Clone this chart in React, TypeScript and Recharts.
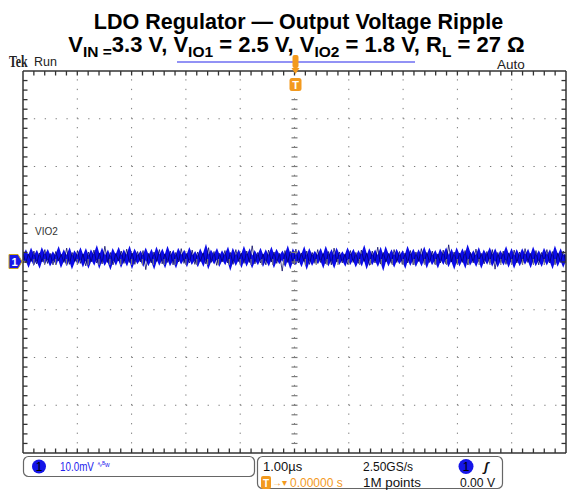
import React from "react";
import { LineChart, Line, XAxis, YAxis, ReferenceLine, ReferenceDot } from "recharts";

// scope settings: 1 us/div horizontally, 10 mV/div vertically, trigger at center
const X_MAJOR = [-5, -4, -3, -2, -1, 0, 1, 2, 3, 4, 5];
const Y_MAJOR = [-40, -30, -20, -10, 0, 10, 20, 30, 40];
const X_MINOR = Array.from({ length: 51 }, (_, i) => -5 + i * 0.2);
const Y_MINOR = Array.from({ length: 41 }, (_, i) => -40 + i * 2);

// VIO2 ripple trace, mV, sampled across 10 us (outer envelope, dark)
const VIO2_DARK = [
  2.0, -0.2, 1.7, 0.1, 2.3, -0.4, 1.9, 0.0, 2.6, -0.3,
  1.8, -0.6, 2.2, 0.2, 1.6, -0.1, 2.9, -0.5, 2.0, 0.1,
  2.4, -0.3, 1.7, -0.8, 2.1, 0.0, 2.5, -0.2, 1.9, -0.4,
  3.3, -0.1, 2.0, -0.6, 1.8, 0.2, 2.3, -0.3, 2.7, -0.1,
  1.9, -0.5, 2.2, 0.0, 2.4, -1.6, 1.8, -0.2, 2.1, 0.1,
  2.6, -0.4, 1.7, -0.1, 2.3, -0.6, 2.0, 0.0, 2.8, -0.3,
  1.8, -0.2, 2.5, -0.5, 2.1, 0.1, 1.9, -0.4, 3.0, -0.1,
  2.2, -0.7, 1.8, 0.0, 2.4, -0.2, 2.0, -0.5, 2.6, 0.1,
  1.9, -0.3, 2.3, -0.1, 3.4, -0.4, 2.0, -0.2, 1.7, -0.6,
  2.5, 0.0, 2.1, -0.3, 1.8, -1.9, 2.4, -0.1, 2.2, -0.4,
  2.7, -0.2, 1.9, 0.1, 2.3, -0.5, 2.0, -0.3, 2.6, -0.1,
  1.8, -0.4, 2.2, -0.6, 2.9, 0.0, 2.1, -0.2, 1.7, -0.5,
  2.4, -0.1, 2.0, -0.3, 2.5, 0.1, 1.9, -0.7, 2.3, -0.2,
  3.1, -0.4, 2.0, 0.0, 1.8, -0.3, 2.6, -0.1, 2.2, -0.5,
  1.9, -0.2, 2.4, -0.6, 2.1, 0.1, 2.8, -0.3, 2.0, -0.1,
  2.3, -0.5, 1.7, -0.2, 2.5, -0.4, 3.6, 0.0, 2.1, -0.3,
  1.9, -0.1, 2.4, -0.6, 2.0, -0.2, 2.7, 0.1, 1.8, -0.4,
  2.2, -0.3, 2.6, -1.5, 2.0, -0.1, 2.3, -0.5, 1.9, 0.0,
  2.5, -0.2, 2.1, -0.4, 2.8, -0.1, 1.8, -0.3, 2.4, -0.6,
  2.0, 0.1, 2.6, -0.2, 2.2, -0.5, 1.9, -0.1, 2.3, -0.3,
];

// VIO2 ripple trace, mV (dense core, bright blue)
const VIO2_CORE = [
  0.4, 1.5, 0.1, 1.7, 0.3, 1.4, 0.0, 1.8, 0.5, 1.6,
  0.2, 1.3, 0.4, 1.9, 0.1, 1.5, 0.3, 1.7, -0.1, 1.4,
  0.5, 1.8, 0.2, 1.6, 0.0, 1.5, 0.4, 2.0, 0.1, 1.7,
  0.3, 1.4, -0.2, 1.6, 0.4, 1.8, 0.1, 1.5, 0.3, 1.9,
  0.0, 1.6, 0.5, 1.4, 0.2, 1.7, 0.3, 1.5, -0.1, 1.8,
  0.4, 1.6, 0.1, 1.9, 0.3, 1.4, 0.0, 1.7, 0.5, 1.5,
  0.2, 1.8, 0.4, 1.3, 0.1, 1.6, 0.3, 2.1, 0.0, 1.5,
  0.5, 1.7, 0.2, 1.4, 0.4, 1.8, -0.2, 1.6, 0.3, 1.5,
  0.1, 1.9, 0.3, 1.6, 0.0, 1.4, 0.4, 1.7, 0.2, 1.5,
  0.3, 1.8, 0.1, 1.6, 0.5, 1.4, 0.2, 1.9, 0.0, 1.6,
  0.4, 1.5, 0.2, 1.8, -0.1, 1.6, 0.3, 1.4, 0.5, 1.7,
  0.1, 1.9, 0.3, 1.5, 0.0, 1.7, 0.4, 1.3, 0.2, 1.8,
  0.5, 1.6, 0.1, 1.4, 0.3, 2.0, 0.0, 1.6, 0.4, 1.5,
  0.2, 1.7, -0.2, 1.8, 0.3, 1.5, 0.1, 1.6, 0.5, 1.4,
  0.0, 1.9, 0.4, 1.6, 0.2, 1.5, 0.3, 1.8, 0.1, 1.7,
  0.4, 1.4, 0.0, 1.6, 0.5, 1.8, 0.2, 1.5, -0.1, 1.7,
  0.3, 1.6, 0.1, 2.1, 0.4, 1.4, 0.2, 1.7, 0.0, 1.5,
  0.5, 1.8, 0.3, 1.6, 0.1, 1.4, 0.4, 1.9, 0.2, 1.6,
  0.0, 1.5, 0.3, 1.7, 0.5, 1.6, 0.1, 1.8, 0.3, 1.4,
  0.2, 1.7, 0.4, 1.5, 0.0, 1.9, 0.3, 1.6, 0.1, 1.5,
];

const T_START = -5;
const T_SPAN = 10;

const data = VIO2_DARK.map((v, i) => ({
  t: T_START + (i * T_SPAN) / (VIO2_DARK.length - 1),
  dark: v,
  core: VIO2_CORE[i],
}));

const W = 567;
const H = 491;
const MARGIN = { top: 71, right: 1, bottom: 38, left: 23 };
const ORANGE = "#f39a1e";
const BORDER = "#333";
const GRID = "#7a7a7a";
const sans = "'Liberation Sans', Arial, sans-serif";

// same linear mapping as the chart's plot box, used for the frame tick marks
const PX0 = MARGIN.left;
const PX1 = W - MARGIN.right;
const PY0 = MARGIN.top;
const PY1 = H - MARGIN.bottom;
const sx = (t: number) => PX0 + ((t + 5) / 10) * (PX1 - PX0);
const sy = (v: number) => PY1 - ((v + 40) / 80) * (PY1 - PY0);

const tickShape = (dx1: number, dy1: number, dx2: number, dy2: number) => (p: any) => (
  <line x1={p.cx + dx1} y1={p.cy + dy1} x2={p.cx + dx2} y2={p.cy + dy2} stroke={GRID} strokeWidth={1.2} />
);
const CENTER_H_TICK = tickShape(-3, 0, 3, 0);
const CENTER_V_TICK = tickShape(0, -3, 0, 3);

// horizontally squeezed text, like the scope's narrow font
const NText = ({ x, y, sx = 1, size = 13.5, fill = "#111", children, ...rest }: any) => (
  <text transform={`translate(${x},${y}) scale(${sx},1)`} fontFamily={sans} fontSize={size} fill={fill} {...rest}>
    {children}
  </text>
);

export default function App() {
  const ax = { xAxisId: "b", yAxisId: "l", ifOverflow: "visible" as const };
  const inner = X_MINOR.slice(1, -1);
  const innerY = Y_MINOR.slice(1, -1);
  return (
    <div style={{ position: "absolute", left: 0, top: 0, width: W, height: H, background: "#fff" }}>
      <LineChart width={W} height={H} data={data} margin={MARGIN}>
        <XAxis xAxisId="b" dataKey="t" type="number" domain={[-5, 5]} mirror tick={false}
          tickLine={false} stroke={BORDER} strokeWidth={1.5} allowDataOverflow />
        <XAxis xAxisId="t" orientation="top" dataKey="t" type="number" domain={[-5, 5]} mirror
          tick={false} tickLine={false} stroke={BORDER} strokeWidth={1.5} allowDataOverflow />
        <YAxis yAxisId="l" type="number" domain={[-40, 40]} mirror tick={false} tickLine={false}
          stroke={BORDER} strokeWidth={1.5} allowDataOverflow />
        <YAxis yAxisId="r" orientation="right" type="number" domain={[-40, 40]} mirror tick={false}
          tickLine={false} stroke={BORDER} strokeWidth={1.5} allowDataOverflow />

        {X_MAJOR.slice(1, -1).map((x) => (
          <ReferenceLine key={"gx" + x} {...ax} x={x} stroke={GRID} strokeDasharray="1.3 8.25" />
        ))}
        {Y_MAJOR.slice(1, -1).map((y) => (
          <ReferenceLine key={"gy" + y} {...ax} y={y} stroke={GRID} strokeDasharray="1.3 9.56" />
        ))}
        {innerY.map((y) => (
          <ReferenceDot key={"cy" + y} {...ax} x={0} y={y} shape={CENTER_H_TICK} />
        ))}
        {inner.map((x) => (
          <ReferenceDot key={"cx" + x} {...ax} x={x} y={0} shape={CENTER_V_TICK} />
        ))}

        <Line xAxisId="b" yAxisId="l" dataKey="core" type="linear" stroke="#0c0ce8" strokeWidth={4.6}
          dot={false} isAnimationActive={false} />
        <Line xAxisId="b" yAxisId="l" dataKey="dark" type="linear" stroke="#000060" strokeWidth={0.75}
          dot={false} isAnimationActive={false} />
      </LineChart>

      <svg width={W} height={H} style={{ position: "absolute", left: 0, top: 0, pointerEvents: "none" }}>
        <g stroke={BORDER} strokeWidth={1.3}>
          {inner.map((t) => (
            <line key={"ft" + t} x1={sx(t)} x2={sx(t)} y1={PY0} y2={PY0 + 4.5} />
          ))}
          {inner.map((t) => (
            <line key={"fb" + t} x1={sx(t)} x2={sx(t)} y1={PY1} y2={PY1 - 4.5} />
          ))}
          {innerY.map((v) => (
            <line key={"fl" + v} x1={PX0} x2={PX0 + 4.5} y1={sy(v)} y2={sy(v)} />
          ))}
          {innerY.map((v) => (
            <line key={"fr" + v} x1={PX1} x2={PX1 - 4.5} y1={sy(v)} y2={sy(v)} />
          ))}
        </g>

        <g fontFamily={sans} fontWeight="bold" fill="#000" textAnchor="middle">
          <text x={298.5} y={29} fontSize={21.5}>LDO Regulator — Output Voltage Ripple</text>
          <text x={296.5} y={52} fontSize={22}>
            V<tspan fontSize={15.5} dy={5}>IN =</tspan>
            <tspan dy={-5}>3.3 V, V</tspan>
            <tspan fontSize={15.5} dy={5}>IO1</tspan>
            <tspan dy={-5}> = 2.5 V, V</tspan>
            <tspan fontSize={15.5} dy={5}>IO2</tspan>
            <tspan dy={-5}> = 1.8 V, R</tspan>
            <tspan fontSize={15.5} dy={5}>L</tspan>
            <tspan dy={-5}> = 27 Ω</tspan>
          </text>
        </g>

        <text transform="translate(9,67) scale(0.7,1)" fontFamily="'Liberation Serif', serif" fontWeight="bold"
          fontSize={17} fill="#222">Tek</text>
        <NText x={34} y={66} size={12.5} fill="#222">Run</NText>
        <NText x={497} y={68.5} size={13.5} fill="#222">Auto</NText>

        <line x1={177} y1={62} x2={415} y2={62} stroke="#6e6ef2" strokeWidth={1.5} />
        <rect x={292.5} y={55} width={6} height={13} rx={2} fill={ORANGE} />
        <path d="M291.5 68 L299.5 68 L295.5 74 Z" fill={ORANGE} />
        <rect x={289.5} y={78} width={12} height={13} rx={2.5} fill={ORANGE} />
        <text x={295.5} y={89} textAnchor="middle" fontFamily={sans} fontWeight="bold" fontSize={11} fill="#fff">T</text>

        <NText x={35} y={235} size={10} fill="#333">VIO2</NText>
        <path d="M9 254.5 L18 254.5 L22 261.5 L18 268.5 L9 268.5 Z" fill="#1818e6" stroke="#c9a21a" strokeWidth={1} />
        <text x={14.5} y={266} textAnchor="middle" fontFamily={sans} fontWeight="bold" fontSize={11} fill="#fff">1</text>

        <rect x={23.5} y={456.5} width={231} height={20} rx={5} fill="none" stroke="#666" strokeWidth={1.2} />
        <circle cx={39} cy={466.5} r={7} fill="#1515e8" />
        <text x={39} y={471} textAnchor="middle" fontFamily={sans} fontSize={12} fill="#000">1</text>
        <NText x={60} y={471} sx={0.73} fill="#2424ee">10.0mV</NText>
        <NText x={97} y={467} sx={0.8} size={8} fill="#2424ee">∿ᴮw</NText>

        <rect x={257.5} y={456.5} width={245} height={32} rx={5} fill="none" stroke="#666" strokeWidth={1.2} />
        <NText x={263} y={471} sx={0.96}>1.00µs</NText>
        <NText x={363} y={471} sx={0.89}>2.50GS/s</NText>
        <NText x={363} y={487} sx={0.99}>1M points</NText>
        <NText x={460} y={487} sx={0.9}>0.00 V</NText>
        <NText x={484} y={471} fontStyle="italic" fontWeight="bold">ʃ</NText>
        <circle cx={466} cy={466.5} r={7.5} fill="#1515e8" />
        <text x={466} y={471} textAnchor="middle" fontFamily={sans} fontSize={12} fill="#000">1</text>
        <rect x={261} y={476} width={10} height={13} rx={2} fill={ORANGE} />
        <text x={266} y={487} textAnchor="middle" fontFamily={sans} fontWeight="bold" fontSize={10} fill="#fff">T</text>
        <NText x={272} y={486} size={10} fill={ORANGE}>→▾</NText>
        <NText x={290} y={487} sx={0.89} fill={ORANGE}>0.00000 s</NText>
      </svg>
    </div>
  );
}
